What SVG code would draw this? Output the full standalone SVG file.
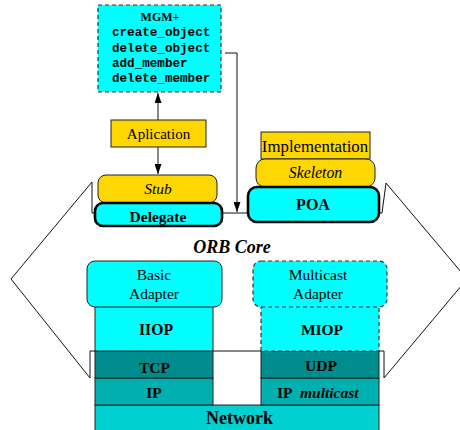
<svg xmlns="http://www.w3.org/2000/svg" width="460" height="430" viewBox="0 0 460 430">
<style>
.t{font-family:"Liberation Serif","Times New Roman",serif;fill:#000;text-anchor:middle}
.s{text-anchor:start}
.b{font-weight:bold}
.i{font-style:italic}
.m{font-family:"Liberation Mono","Courier New",monospace;font-weight:bold;font-size:12.6px;fill:#000}
.thin{stroke:#222;stroke-width:1}
.thick{stroke:#000;stroke-width:2.6}
.dash{stroke:#333;stroke-width:1.2;stroke-dasharray:4 3}
.cy{fill:#00ffff}
.gd{fill:#ffd700}
.c4{fill:#008c8c}
.c3{fill:#00b0b0}
.c2{fill:#00d0d0}
.ln{fill:none;stroke:#111;stroke-width:1}
</style>
<defs>
<marker id="ah" markerWidth="10" markerHeight="7" refX="10" refY="3.5" orient="auto" markerUnits="userSpaceOnUse">
<path d="M0,0 L10,3.5 L0,7 Z" fill="#000"/>
</marker>
</defs>
<rect width="460" height="430" fill="#fff"/>

<g id="connectors">
<polyline class="ln" points="92,213 92,182 11,279 90,378 90,351 384,351 384,378 467,279 386,183 382,213 92,213"/>
<line class="ln" x1="158" y1="120" x2="158" y2="93" marker-end="url(#ah)"/>
<line class="ln" x1="158" y1="147" x2="158" y2="174" marker-end="url(#ah)"/>
<polyline class="ln" points="225,53 237,53 237,212" marker-end="url(#ah)"/>
</g>

<g id="mgm">
<rect class="cy dash" x="98" y="5" width="123" height="87"/>
<text class="t b" x="160" y="21" font-size="12">MGM+</text>
<text class="m" x="112" y="36">create_object</text>
<text class="m" x="112" y="51.5">delete_object</text>
<text class="m" x="112" y="66.5">add_member</text>
<text class="m" x="112" y="81.5">delete_member</text>
</g>

<g id="aplication">
<rect class="gd thin" x="111" y="120" width="95" height="27"/>
<text class="t" x="158.5" y="139" font-size="15">Aplication</text>
</g>

<g id="stub">
<rect class="gd thin" x="98" y="175" width="119" height="28" rx="8"/>
<text class="t i" x="158" y="194" font-size="15.5">Stub</text>
</g>

<g id="delegate">
<rect class="cy thick" x="95" y="203" width="127" height="23" rx="8"/>
<text class="t b" x="158" y="222" font-size="15.5">Delegate</text>
</g>

<g id="implementation">
<rect class="gd thin" x="261" y="132" width="109" height="27"/>
<text class="t" x="315" y="152" font-size="16.8">Implementation</text>
</g>

<g id="skeleton">
<rect class="gd thin" x="256" y="159" width="119" height="28" rx="9"/>
<text class="t i" x="315.5" y="178" font-size="15.8">Skeleton</text>
</g>

<g id="poa">
<rect class="cy thick" x="248" y="187" width="131" height="35" rx="9"/>
<text class="t b" x="313" y="210" font-size="16">POA</text>
</g>

<g id="orbcore">
<text class="t b i" x="232" y="253" font-size="18">ORB Core</text>
</g>

<g id="network">
<rect class="c2 thin" x="95" y="405" width="284" height="30"/>
<text class="t b" x="239.5" y="424" font-size="18">Network</text>
</g>

<g id="ip">
<rect class="c3 thin" x="95" y="378" width="118" height="27"/>
<text class="t b" x="154" y="398" font-size="15.5">IP</text>
</g>

<g id="tcp">
<rect class="c4 thin" x="95" y="351" width="118" height="27"/>
<text class="t b" x="154.5" y="373" font-size="15.5">TCP</text>
</g>

<g id="iiop">
<rect class="cy thin" x="95" y="300" width="118" height="51"/>
<text class="t b" x="156" y="335" font-size="15.7">IIOP</text>
</g>

<g id="basic-adapter">
<rect class="cy thin" x="87" y="261" width="135" height="46" rx="8"/>
<text class="t" x="154" y="280" font-size="15.5">Basic</text>
<text class="t" x="154" y="299" font-size="15.5">Adapter</text>
</g>

<g id="ip-multicast">
<rect class="c3 thin" x="261" y="378" width="118" height="27"/>
<text class="t b s" x="277" y="397.5" font-size="15.5">IP</text>
<text class="t b i s" x="300" y="397.5" font-size="15.5">multicast</text>
</g>

<g id="udp">
<rect class="c4 thin" x="261" y="351" width="118" height="27"/>
<text class="t b" x="321" y="371" font-size="15.6">UDP</text>
</g>

<g id="miop">
<rect class="cy dash" x="261" y="300" width="118" height="51"/>
<text class="t b" x="322" y="335" font-size="15.5">MIOP</text>
</g>

<g id="multicast-adapter">
<rect class="cy dash" x="253" y="261" width="134" height="46" rx="8"/>
<text class="t" x="318" y="280" font-size="15.5">Multicast</text>
<text class="t" x="318" y="299" font-size="15.5">Adapter</text>
</g>
</svg>
